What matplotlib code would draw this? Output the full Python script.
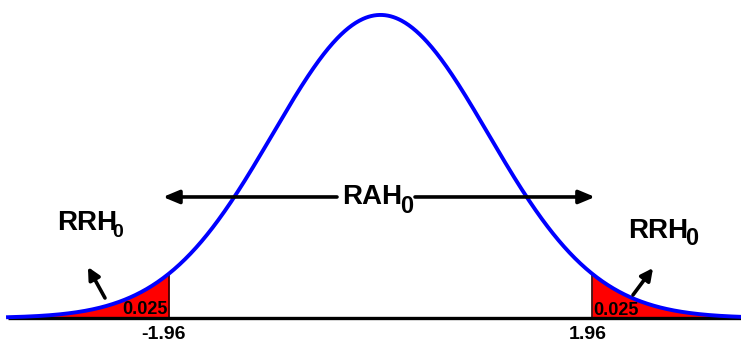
import numpy as np
import matplotlib
matplotlib.use("Agg")
import matplotlib.pyplot as plt

# --- data ---
crit = 1.96
alpha_tail = "0.025"
x_start, x_end = -3.452, 3.341
tick_labels = ["-1.96", "1.96"]
labels_main = ["RAH", "RRH", "RRH"]

plt.rcParams['font.family'] = ['Liberation Sans', 'DejaVu Sans']
plt.rcParams['font.weight'] = 'bold'

def pdf(x):
    return np.exp(-x**2 / 2) / np.sqrt(2 * np.pi)

fig = plt.figure(figsize=(7.41, 3.41), dpi=100)
ax = fig.add_axes([0, 0, 1, 1])
ax.set_xlim(-3.526, 3.341)
ax.set_ylim(-0.0303, 0.4186)
ax.axis('off')

x = np.linspace(x_start, x_end, 800)
y = pdf(x)

# tails
xl = np.linspace(x_start, -crit, 200)
xr = np.linspace(crit, x_end, 200)
ax.fill_between(xl, 0, pdf(xl), color='#FF0000', lw=0, zorder=2)
ax.fill_between(xr, 0, pdf(xr), color='#FF0000', lw=0, zorder=2)
ax.vlines([-crit, crit], 0, pdf(crit), color='#330000', lw=1.2, zorder=3)

# baseline
ax.plot([x_start, x_end], [0, 0], color='black', lw=2.4, zorder=3, solid_capstyle='butt')
# curve
ax.plot(x, y, color='#0000FF', lw=2.8, zorder=4)

# big arrows
big = dict(arrowstyle='-|>,head_length=0.6,head_width=0.25', lw=2.6, color='black',
           mutation_scale=16, shrinkA=0, shrinkB=0)
ax.annotate('', xy=(-2.016, 0.1593), xytext=(-0.403, 0.1593), arrowprops=big, zorder=5)
ax.annotate('', xy=(1.988, 0.1593), xytext=(0.320, 0.1593), arrowprops=big, zorder=5)

# small arrows
small = dict(arrowstyle='-|>,head_length=0.6,head_width=0.3', lw=2.6, color='black',
             mutation_scale=12, shrinkA=0, shrinkB=0)
ax.annotate('', xy=(-2.711, 0.0671), xytext=(-2.553, 0.0263), arrowprops=small, zorder=5)
ax.annotate('', xy=(2.526, 0.0658), xytext=(2.340, 0.0303), arrowprops=small, zorder=5)

# labels
ax.text(-0.357, 0.150, labels_main[0], fontsize=20, fontweight='bold', ha='left', va='baseline', zorder=6)
ax.text(0.185, 0.1382, "0", fontsize=17, fontweight='bold', ha='left', va='baseline', zorder=6)
ax.text(-2.998, 0.1159, labels_main[1], fontsize=20, fontweight='bold', ha='left', va='baseline', zorder=6)
ax.text(-2.485, 0.1066, "0", fontsize=14, fontweight='bold', ha='left', va='baseline', zorder=6)
ax.text(2.294, 0.1053, labels_main[2], fontsize=20, fontweight='bold', ha='left', va='baseline', zorder=6)
ax.text(2.826, 0.0961, "0", fontsize=17, fontweight='bold', ha='left', va='baseline', zorder=6)

ax.text(-crit - 0.01, 0.0053, alpha_tail, fontsize=13, fontweight='bold', ha='right', va='baseline', zorder=6)
ax.text(crit + 0.01, 0.0040, alpha_tail, fontsize=13, fontweight='bold', ha='left', va='baseline', zorder=6)

ax.text(-2.011, -0.028, tick_labels[0], fontsize=14, fontweight='bold', ha='center', va='baseline')
ax.text(1.918, -0.028, tick_labels[1], fontsize=14, fontweight='bold', ha='center', va='baseline')

fig.savefig('out.png', dpi=100)
